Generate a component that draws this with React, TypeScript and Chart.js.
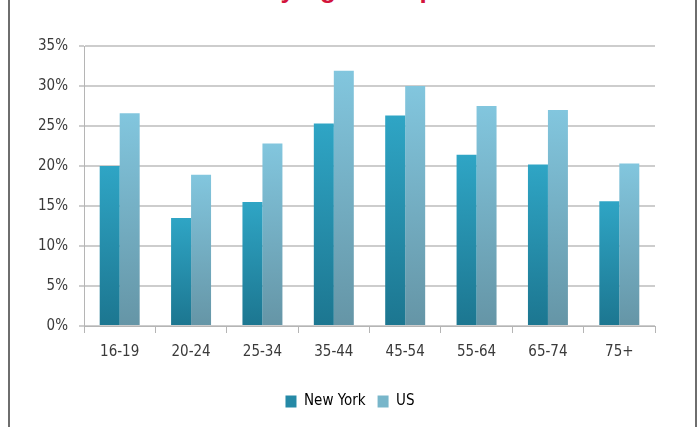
import React, { useEffect, useRef } from "react";
import { Chart, registerables } from "chart.js";

Chart.register(...registerables);

const categories = ["16-19", "20-24", "25-34", "35-44", "45-54", "55-64", "65-74", "75+"];
const newYork = [20.0, 13.5, 15.5, 25.3, 26.3, 21.4, 20.2, 15.6];
const us = [26.6, 18.9, 22.8, 31.9, 30.0, 27.5, 27.0, 20.3];
const yTicks = [0, 5, 10, 15, 20, 25, 30, 35];
const titleText = "by Age Group";

const FONT = "'Liberation Sans Narrow', 'DejaVu Sans Condensed', 'Liberation Sans', sans-serif";

function barGradient(top: string, bottom: string) {
  return (ctx: any) => {
    const chart = ctx.chart;
    const area = chart.chartArea;
    if (!area || ctx.type !== "data") return top;
    const v = ctx.raw as number;
    const y = chart.scales.y;
    const y0 = y.getPixelForValue(v);
    const y1 = y.getPixelForValue(0);
    const g = chart.ctx.createLinearGradient(0, y0, 0, y1);
    g.addColorStop(0, top);
    g.addColorStop(1, bottom);
    return g;
  };
}

export default function App() {
  const ref = useRef<HTMLCanvasElement>(null);
  useEffect(() => {
    document.body.style.margin = "0";
    const chart = new Chart(ref.current!, {
      type: "bar",
      data: {
        labels: categories,
        datasets: [
          {
            label: "New York",
            data: newYork,
            backgroundColor: barGradient("#2fa5c5", "#1c7690"),
            categoryPercentage: 0.56,
            barPercentage: 1,
          },
          {
            label: "US",
            data: us,
            backgroundColor: barGradient("#82c6de", "#6595a6"),
            categoryPercentage: 0.56,
            barPercentage: 1,
          },
        ],
      },
      options: {
        animation: false,
        responsive: false,
        layout: { padding: { top: 46, left: 0, right: 0, bottom: 8 } },
        plugins: {
          title: { display: false },
          tooltip: { enabled: false },
          legend: {
            position: "bottom",
            labels: {
              boxWidth: 11,
              boxHeight: 12,
              padding: 12,
              color: "#3a3a3a",
              font: { family: FONT, size: 15 },
              generateLabels: () => [
                { text: "New York", fillStyle: "#2589a6", strokeStyle: "#2589a6", lineWidth: 0, datasetIndex: 0 },
                { text: "US", fillStyle: "#78b6ca", strokeStyle: "#78b6ca", lineWidth: 0, datasetIndex: 1 },
              ] as any,
            },
          },
        },
        scales: {
          x: {
            grid: { display: true, drawOnChartArea: false, drawTicks: true, tickLength: 7, offset: true, color: "#b5b5b5" },
            border: { color: "#b5b5b5", width: 1 },
            ticks: { color: "#3a3a3a", font: { family: FONT, size: 15 }, padding: 10 },
            afterFit: (s: any) => { s.height = 56; },
          },
          y: {
            min: 0,
            max: 35,
            afterBuildTicks: (s: any) => { s.ticks = yTicks.map((v) => ({ value: v })); },
            grid: { color: "#cdcdcd", lineWidth: 2, tickLength: 5 },
            border: { color: "#b5b5b5", width: 1 },
            ticks: {
              color: "#3a3a3a",
              font: { family: FONT, size: 15 },
              padding: 11,
              callback: (v: any) => v + "%",
            },
            afterFit: (s: any) => { s.width = 84; },
          },
          yRight: {
            position: "right",
            min: 0,
            max: 35,
            grid: { display: false, drawTicks: false },
            border: { display: false },
            ticks: { display: false },
            afterFit: (s: any) => { s.width = 45; },
          },
        },
      },
    });
    return () => chart.destroy();
  }, []);
  return (
    <div style={{ position: "fixed", left: 0, top: 0, width: 700, height: 427, overflow: "hidden", background: "#fff" }}>
      <div style={{ position: "absolute", left: 8, top: -4, width: 685, height: 440, borderLeft: "2px solid #6e6e6e", borderRight: "2px solid #6e6e6e" }} />
      <div
        style={{
          position: "absolute",
          left: 0,
          width: 700,
          top: -24,
          textAlign: "center",
          fontFamily: "'Liberation Sans', Arial, sans-serif",
          fontWeight: "bold",
          fontSize: 26,
          lineHeight: "26px",
          color: "#d2143c",
          whiteSpace: "nowrap",
        }}
      >
        {titleText}
      </div>
      <canvas ref={ref} width={700} height={427} style={{ position: "absolute", left: 0, top: 0 }} />
    </div>
  );
}
